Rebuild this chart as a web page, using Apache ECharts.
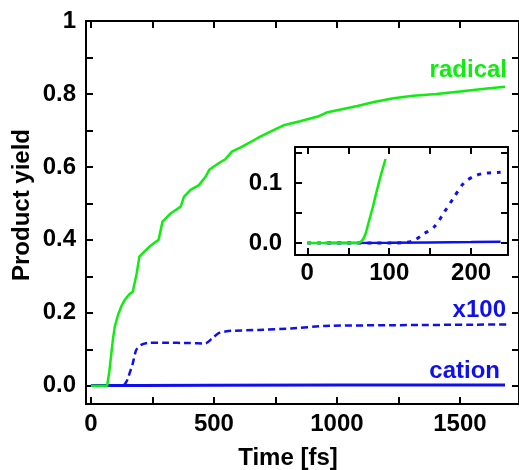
<!DOCTYPE html>
<html>
<head>
<meta charset="utf-8">
<script src="https://cdn.jsdelivr.net/npm/echarts@6/dist/echarts.min.js"></script>
<style>html,body{margin:0;padding:0;background:#fff}#c{width:519px;height:470px}</style>
</head>
<body>
<div id="c"></div>
<script>
// ---- main panel data ----
const radT = [0, 66, 75, 83, 90, 97, 110, 125, 137, 155, 170, 177, 186, 197, 204, 220, 237, 264, 275, 291, 325, 365, 378, 405, 439, 466, 481, 519, 546, 573, 613, 680, 740, 787, 850, 922, 962, 1020, 1083, 1150, 1230, 1310, 1404, 1500, 1600, 1683];
const radV = [0, 0, 0.04, 0.089, 0.13, 0.162, 0.194, 0.22, 0.235, 0.25, 0.258, 0.262, 0.308, 0.354, 0.358, 0.37, 0.381, 0.395, 0.40, 0.45, 0.473, 0.491, 0.518, 0.537, 0.55, 0.573, 0.592, 0.61, 0.621, 0.642, 0.655, 0.68, 0.70, 0.715, 0.725, 0.738, 0.75, 0.758, 0.767, 0.778, 0.788, 0.795, 0.80, 0.807, 0.814, 0.82];
const x100T = [0, 130, 145, 157, 170, 184, 204, 237, 300, 400, 466, 490, 519, 559, 680, 814, 948, 1215, 1690];
const x100V = [0, 0, 0.012, 0.034, 0.061, 0.098, 0.112, 0.118, 0.118, 0.117, 0.116, 0.128, 0.144, 0.15, 0.153, 0.157, 0.164, 0.166, 0.168];
const catT = [0, 200, 500, 1000, 1683];
const catV = [0.0005, 0.001, 0.0015, 0.002, 0.002];
// ---- inset data ----
const inRadT = [0, 40, 62, 67, 71, 75, 80, 85, 90, 95.5];
const inRadV = [0, 0, 0, 0.004, 0.015, 0.035, 0.06, 0.088, 0.114, 0.14];
const inX100T = [0, 100, 120, 130, 142, 155, 167, 179, 191, 203, 215, 225, 236];
const inX100V = [0, 0, 0.001, 0.004, 0.015, 0.027, 0.051, 0.076, 0.1, 0.111, 0.116, 0.117, 0.118];
const inCatT = [22, 100, 150, 200, 236];
const inCatV = [0, 0.0005, 0.001, 0.0015, 0.002];
// ---- ticks ----
const mainXTicks = [0, 250, 500, 750, 1000, 1250, 1500];
const mainXLabels = [0, 500, 1000, 1500];
const mainYTicks = [0, 0.1, 0.2, 0.3, 0.4, 0.5, 0.6, 0.7, 0.8, 0.9, 1.0];
const mainYLabels = [0, 0.2, 0.4, 0.6, 0.8, 1.0];
const inXTicks = [0, 50, 100, 150, 200];
const inXLabels = [0, 100, 200];
const inYTicks = [0, 0.05, 0.1, 0.15];
const inYLabels = [0, 0.1];

const GREEN = '#10ec10', BLUE = '#1010ee';
const FONT = 'Liberation Sans';
const FS = 24;
const FONTSTR = 'bold ' + FS + 'px "Liberation Sans"';
const zip = (a, b) => a.map((v, i) => [v, b[i]]);
const lbl = {fontFamily: FONT, fontWeight: 'bold', fontSize: FS, color: '#000'};
const axLine = {show: true, onZero: false, lineStyle: {color: '#000', width: 2}};
const tick = (vals, len) => ({show: true, inside: true, length: len, customValues: vals, lineStyle: {color: '#000', width: 2}});

function xAx(grid, min, max, ticks, labels, pos, showLbl, margin) {
  return {type: 'value', gridIndex: grid, position: pos, min, max,
    axisLine: axLine, axisTick: tick(ticks, 7), splitLine: {show: false},
    axisLabel: showLbl ? Object.assign({customValues: labels, margin, formatter: v => String(v)}, lbl) : {show: false}};
}
function yAx(grid, min, max, ticks, labels, pos, showLbl, margin) {
  return {type: 'value', gridIndex: grid, position: pos, min, max,
    axisLine: axLine, axisTick: tick(ticks, 7), splitLine: {show: false},
    axisLabel: showLbl ? Object.assign({customValues: labels, margin,
      formatter: v => (Math.abs(v - 1) < 1e-9 ? '1' : v.toFixed(1))}, lbl) : {show: false}};
}

const chart = echarts.init(document.getElementById('c'), null, {renderer: 'canvas'});
chart.setOption({
  animation: false,
  backgroundColor: '#fff',
  grid: [
    {left: 86, top: 21, right: -4, bottom: 66},
    {left: 295, top: 147, right: 11, bottom: 215}
  ],
  xAxis: [
    xAx(0, -20, 1740, mainXTicks, mainXLabels, 'bottom', true, 8),
    xAx(0, -20, 1740, mainXTicks, mainXLabels, 'top', false),
    xAx(1, -15, 245, inXTicks, inXLabels, 'bottom', true, 6),
    xAx(1, -15, 245, inXTicks, inXLabels, 'top', false)
  ],
  yAxis: [
    yAx(0, -0.05, 1, mainYTicks, mainYLabels, 'left', true, 10),
    yAx(0, -0.05, 1, mainYTicks, mainYLabels, 'right', false),
    yAx(1, -0.02, 0.16, inYTicks, inYLabels, 'left', true, 13),
    yAx(1, -0.02, 0.16, inYTicks, inYLabels, 'right', false)
  ],
  series: [
    {type: 'line', xAxisIndex: 0, yAxisIndex: 0, data: zip(catT, catV), showSymbol: false,
      lineStyle: {color: BLUE, width: 3}},
    {type: 'line', xAxisIndex: 0, yAxisIndex: 0, data: zip(x100T, x100V), showSymbol: false, smooth: 0.2,
      lineStyle: {color: BLUE, width: 2.5, type: [7, 4]}},
    {type: 'line', xAxisIndex: 0, yAxisIndex: 0, data: zip(radT, radV), showSymbol: false,
      lineStyle: {color: GREEN, width: 2.5}},
    {type: 'line', xAxisIndex: 2, yAxisIndex: 2, data: zip(inCatT, inCatV), showSymbol: false,
      lineStyle: {color: BLUE, width: 2.5}},
    {type: 'line', xAxisIndex: 2, yAxisIndex: 2, data: zip(inX100T, inX100V), showSymbol: false, smooth: 0.3,
      lineStyle: {color: BLUE, width: 3, type: [4, 6]}},
    {type: 'line', xAxisIndex: 2, yAxisIndex: 2, data: zip(inRadT, inRadV), showSymbol: false, smooth: 0.2,
      lineStyle: {color: GREEN, width: 2.5}}
  ],
  graphic: [
    {type: 'text', x: 507, y: 70, style: {text: 'radical', fill: GREEN, font: FONTSTR, textAlign: 'right', textVerticalAlign: 'middle'}},
    {type: 'text', x: 506, y: 310, style: {text: 'x100', fill: BLUE, font: FONTSTR, textAlign: 'right', textVerticalAlign: 'middle'}},
    {type: 'text', x: 500, y: 371, style: {text: 'cation', fill: BLUE, font: FONTSTR, textAlign: 'right', textVerticalAlign: 'middle'}},
    {type: 'text', x: 288, y: 458, style: {text: 'Time [fs]', fill: '#000', font: FONTSTR, textAlign: 'center', textVerticalAlign: 'middle'}},
    {type: 'text', x: 22, y: 205, rotation: Math.PI / 2, style: {text: 'Product yield', fill: '#000', font: FONTSTR, textAlign: 'center', textVerticalAlign: 'middle'}}
  ]
});
</script>
</body>
</html>
